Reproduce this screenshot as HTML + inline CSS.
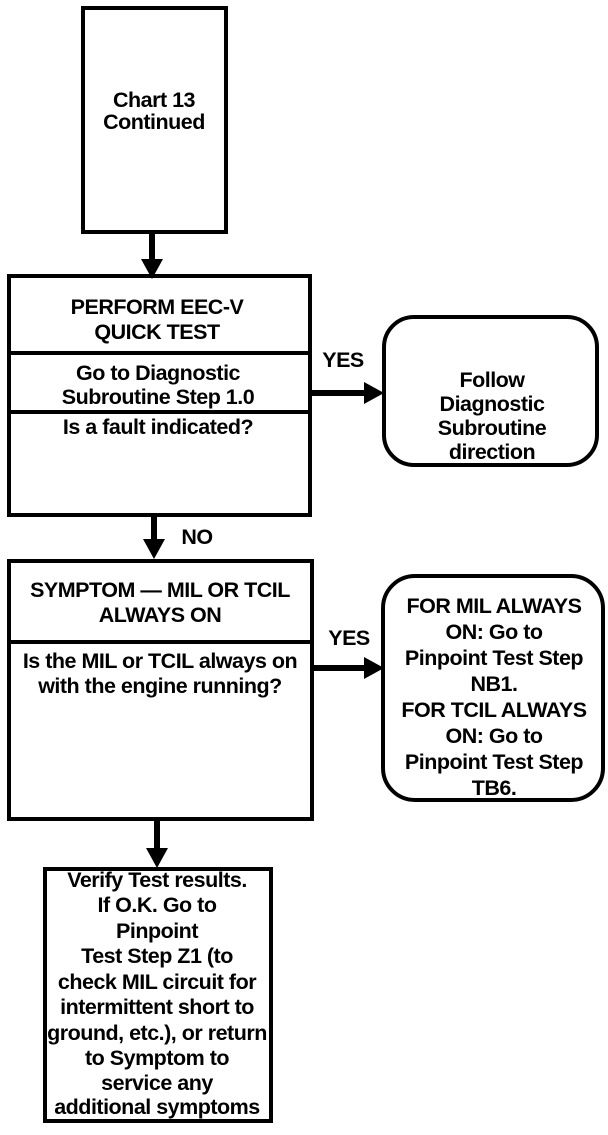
<!DOCTYPE html>
<html><head><style>
html,body{margin:0;padding:0;background:#fff;}
svg text{font-family:"Liberation Sans",Arial,sans-serif;font-size:21.5px;font-weight:bold;fill:#000;text-anchor:middle;letter-spacing:-0.5px;}
</style></head><body>
<svg width="608" height="1130" viewBox="0 0 608 1130" xmlns="http://www.w3.org/2000/svg">
<g fill="none" stroke="#000" stroke-width="4">
<rect x="83" y="8" width="143" height="224"/>
<rect x="9" y="276" width="301" height="239"/>
<line x1="9" y1="353" x2="310" y2="353"/>
<line x1="9" y1="412" x2="310" y2="412"/>
<rect x="384" y="317" width="213" height="148" rx="30"/>
<rect x="9" y="561" width="303" height="258"/>
<line x1="9" y1="642" x2="312" y2="642"/>
<rect x="383" y="576" width="220" height="224" rx="32"/>
<rect x="45" y="869" width="226" height="252"/>
</g>
<g stroke="#000" stroke-width="6">
<line x1="152" y1="232" x2="152" y2="262"/>
<line x1="310" y1="393" x2="368" y2="393"/>
<line x1="154" y1="515" x2="154" y2="543"/>
<line x1="312" y1="668" x2="368" y2="668"/>
<line x1="157" y1="819" x2="157" y2="852"/>
</g>
<g fill="#000">
<polygon points="141,259 163,259 152,279"/>
<polygon points="364,382 364,404 384,393"/>
<polygon points="143,539 165,539 154,559"/>
<polygon points="364,657 364,679 384,668"/>
<polygon points="146,848 168,848 157,868"/>
</g>
<text x="154" y="107">Chart 13</text>
<text x="154" y="129">Continued</text>
<text x="157" y="314">PERFORM EEC-V</text>
<text x="157" y="339">QUICK TEST</text>
<text x="158" y="380">Go to Diagnostic</text>
<text x="158" y="404">Subroutine Step 1.0</text>
<text x="158" y="434">Is a fault indicated?</text>
<text x="343" y="367">YES</text>
<text x="492" y="387">Follow</text>
<text x="492" y="411">Diagnostic</text>
<text x="492" y="435">Subroutine</text>
<text x="492" y="459">direction</text>
<text x="197" y="544">NO</text>
<text x="160" y="597">SYMPTOM — MIL OR TCIL</text>
<text x="160" y="622">ALWAYS ON</text>
<text x="160" y="668">Is the MIL or TCIL always on</text>
<text x="160" y="693">with the engine running?</text>
<text x="349" y="645">YES</text>
<text x="494" y="613">FOR MIL ALWAYS</text>
<text x="494" y="639">ON: Go to</text>
<text x="494" y="665">Pinpoint Test Step</text>
<text x="494" y="691">NB1.</text>
<text x="494" y="717">FOR TCIL ALWAYS</text>
<text x="494" y="743">ON: Go to</text>
<text x="494" y="769">Pinpoint Test Step</text>
<text x="494" y="795">TB6.</text>
<text x="157" y="887">Verify Test results.</text>
<text x="157" y="912">If O.K. Go to</text>
<text x="157" y="938">Pinpoint</text>
<text x="157" y="963">Test Step Z1 (to</text>
<text x="157" y="989">check MIL circuit for</text>
<text x="157" y="1014">intermittent short to</text>
<text x="157" y="1040">ground, etc.), or return</text>
<text x="157" y="1065">to Symptom to</text>
<text x="157" y="1090">service any</text>
<text x="157" y="1114">additional symptoms</text>
</svg>
</body></html>
